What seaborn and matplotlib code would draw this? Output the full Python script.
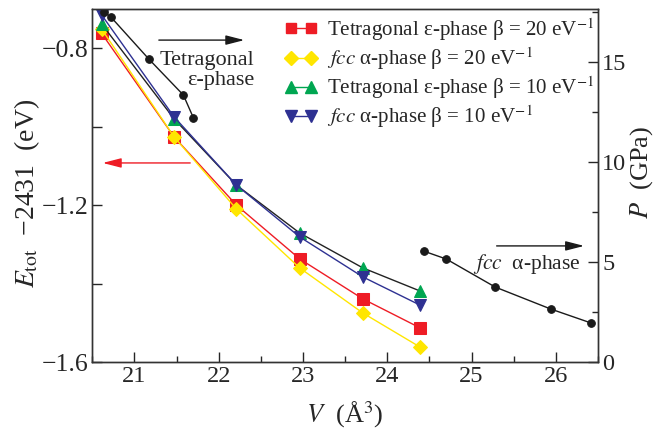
import matplotlib
matplotlib.use("Agg")
import matplotlib.pyplot as plt
import seaborn as sns
from matplotlib.lines import Line2D
from matplotlib.ticker import MultipleLocator

# volumes (A^3) where total energies were computed
V = [20.61, 21.47, 22.21, 22.96, 23.71, 24.39]
# E_tot - 2431 (eV)
E_tet20 = [-0.762, -1.026, -1.200, -1.337, -1.439, -1.513]
E_fcc20 = [-0.751, -1.026, -1.210, -1.360, -1.475, -1.562]
E_tet10 = [-0.738, -0.980, -1.149, -1.271, -1.360, -1.419]
E_fcc10 = [-0.715, -0.975, -1.149, -1.281, -1.383, -1.455]

# pressure curves (right axis)
V_tet_P = [20.64, 20.72, 21.17, 21.58, 21.70]
P_tet = [17.5, 17.25, 15.15, 13.35, 12.2]
V_fcc_P = [24.43, 24.70, 25.28, 25.94, 26.42]
P_fcc = [5.55, 5.15, 3.75, 2.65, 1.95]

labels = [r"Tetragonal ε-phase β = 20 eV$^{-1}$",
          r"$\it{fcc}$ α-phase β = 20 eV$^{-1}$",
          r"Tetragonal ε-phase β = 10 eV$^{-1}$",
          r"$\it{fcc}$ α-phase β = 10 eV$^{-1}$"]

sns.set_style("ticks")
plt.rcParams['font.family'] = ['Liberation Serif', 'DejaVu Serif']
plt.rcParams['mathtext.fontset'] = 'stix'
plt.rcParams['font.size'] = 16

RED = '#ee1c25'
YEL = '#ffe600'
GRN = '#00a651'
BLU = '#2e3192'

fig = plt.figure(figsize=(6.55, 4.3), dpi=100)
ax = fig.add_axes([0.141, 0.158, 0.772, 0.821])
ax2 = ax.twinx()

# energy curves
sns.lineplot(x=V, y=E_tet20, ax=ax, color=RED, lw=1, marker='s', ms=8,
             mec=RED, sort=False)
sns.lineplot(x=V, y=E_fcc20, ax=ax, color=YEL, lw=1, marker='D', ms=7.5,
             mec=YEL, sort=False)
sns.lineplot(x=V, y=E_tet10, ax=ax, color='#222222', lw=1, marker='^', ms=9,
             mfc=GRN, mec=GRN, sort=False)
sns.lineplot(x=V, y=E_fcc10, ax=ax, color=BLU, lw=1, marker='v', ms=9,
             mec=BLU, sort=False)

# pressure curves
sns.lineplot(x=V_tet_P, y=P_tet, ax=ax2, color='#1a1a1a', lw=1, marker='o',
             ms=5.5, mec='#1a1a1a', sort=False)
sns.lineplot(x=V_fcc_P, y=P_fcc, ax=ax2, color='#1a1a1a', lw=1, marker='o',
             ms=5.5, mec='#1a1a1a', sort=False)

ax.set_xlim(20.5, 26.5)
ax.set_ylim(-1.6, -0.7)
ax2.set_ylim(0, 17.65)

ax.xaxis.set_major_locator(MultipleLocator(1))
ax.xaxis.set_minor_locator(MultipleLocator(0.5))
ax.yaxis.set_minor_locator(MultipleLocator(0.2))
ax2.yaxis.set_major_locator(MultipleLocator(5))
ax2.yaxis.set_minor_locator(MultipleLocator(2.5))
ax.set_yticks([-1.6, -1.2, -0.8])
ax.set_yticklabels(['−1.6', '−1.2', '−0.8'])

for a in (ax, ax2):
    a.tick_params(which='major', direction='in', length=7, width=1,
                  labelsize=17.5, pad=3)
    a.tick_params(which='minor', direction='in', length=4, width=1)
    for s in a.spines.values():
        s.set_linewidth(1)
        s.set_color('#333333')
ax.tick_params(axis='y', which='minor', length=7)
ax.tick_params(axis='y', labelsize=18.5)

ax.set_xlabel('')
ax.set_ylabel('')
ax2.set_ylabel('')
fig.text(27/655, 1-193/430, r"$E_{\rm tot}$  −2431  (eV)", rotation=90,
         ha='center', va='center', fontsize=20)
fig.text(642/655, 1-172/430, r"$P$  (GPa)", rotation=90,
         ha='center', va='center', fontsize=19)
fig.text(345/655, 1-415/430, r"$V$  (Å$^3$)", ha='center', va='center',
         fontsize=19)

# annotations
arw = dict(arrowstyle='-|>,head_length=0.7,head_width=0.18', lw=1)
ax.annotate('', xy=(0.306, 0.912), xytext=(0.126, 0.912),
            xycoords='axes fraction', arrowprops=dict(color='#1a1a1a', **arw))
ax.text(0.320, 0.826, "Tetragonal\nε-phase", transform=ax.transAxes,
        ha='right', va='center', multialignment='right', fontsize=16,
        linespacing=1.1)
ax.annotate('', xy=(0.015, 0.564), xytext=(0.199, 0.564),
            xycoords='axes fraction', arrowprops=dict(color=RED, **arw))
ax.annotate('', xy=(0.978, 0.329), xytext=(0.794, 0.329),
            xycoords='axes fraction', arrowprops=dict(color='#1a1a1a', **arw))
ax.text(0.752, 0.278, r"$\it{fcc}$  α-phase", transform=ax.transAxes,
        ha='left', va='center', fontsize=15.5)

handles = [
    Line2D([], [], color=RED, lw=1, marker='s', ms=7.5, mec=RED),
    Line2D([], [], color=YEL, lw=1, marker='D', ms=7, mec=YEL),
    Line2D([], [], color=GRN, lw=1, marker='^', ms=8.5, mec=GRN),
    Line2D([], [], color=BLU, lw=1, marker='v', ms=8.5, mec=BLU),
]
ax2.legend(handles, labels, loc='upper left', numpoints=2,
           bbox_to_anchor=(285/655, 1-16/430), bbox_transform=fig.transFigure,
           frameon=False, fontsize=15.1, handlelength=1.55, handletextpad=0.45,
           labelspacing=0.12, borderpad=0, borderaxespad=0)

fig.savefig('out.png', dpi=100)
